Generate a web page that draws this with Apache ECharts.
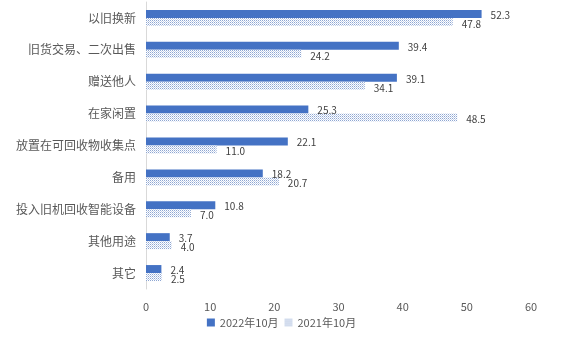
<!DOCTYPE html>
<html><head><meta charset="utf-8">
<script src="https://cdn.jsdelivr.net/npm/echarts@6/dist/echarts.min.js"></script>
<style>html,body{margin:0;padding:0;background:#fff}#c{width:563px;height:339px}</style>
</head><body><div id="c"></div>
<script>
const categories = ['以旧换新','旧货交易、二次出售','赠送他人','在家闲置','放置在可回收物收集点','备用','投入旧机回收智能设备','其他用途','其它'];
const seriesNames = ['2022年10月','2021年10月'];
const values2022 = [52.3,39.4,39.1,25.3,22.1,18.2,10.8,3.7,2.4];
const values2021 = [47.8,24.2,34.1,48.5,11.0,20.7,7.0,4.0,2.5];

const cv = document.createElement('canvas');
cv.width = 2; cv.height = 2;
const cx = cv.getContext('2d');
cx.fillStyle = '#ffffff'; cx.fillRect(0,0,2,2);
cx.fillStyle = '#8ea6d2'; cx.fillRect(0,0,1,1);
cx.fillStyle = '#c5d2ea'; cx.fillRect(1,1,1,1);

const chart = echarts.init(document.getElementById('c'));
const font = '"Noto Sans CJK SC", sans-serif';
chart.setOption({
  animation:false,
  textStyle:{fontFamily:font},
  grid:{left:146,right:32,top:2,bottom:50},
  legend:{bottom:6,left:'center',itemWidth:8,itemHeight:8,itemGap:6,
    textStyle:{fontSize:11,color:'#595959',fontFamily:font},
    data:[{name:seriesNames[0],icon:'rect'},{name:seriesNames[1],icon:'rect'}]},
  xAxis:{type:'value',min:0,max:60,interval:10,
    axisLine:{show:false},axisTick:{show:false},splitLine:{show:false},
    axisLabel:{color:'#595959',fontSize:11,margin:12,fontFamily:font}},
  yAxis:{type:'category',data:categories,inverse:true,
    axisLine:{show:true,lineStyle:{color:'#d9d9d9'}},axisTick:{show:false},
    axisLabel:{color:'#595959',fontSize:12,margin:10,fontFamily:font}},
  series:[
    {name:seriesNames[0],type:'bar',data:values2022,barWidth:8,barGap:'0%',
     itemStyle:{color:'#4472c4'},
     label:{show:true,position:'right',distance:9,offset:[0,1],fontSize:10,color:'#404040',formatter:p=>p.value.toFixed(1)}},
    {name:seriesNames[1],type:'bar',data:values2021,barWidth:8,barGap:'0%',
     itemStyle:{color:{image:cv,repeat:'repeat'}},
     label:{show:true,position:'right',distance:9,offset:[0,2],fontSize:10,color:'#404040',formatter:p=>p.value.toFixed(1)}}
  ]
});
</script></body></html>
